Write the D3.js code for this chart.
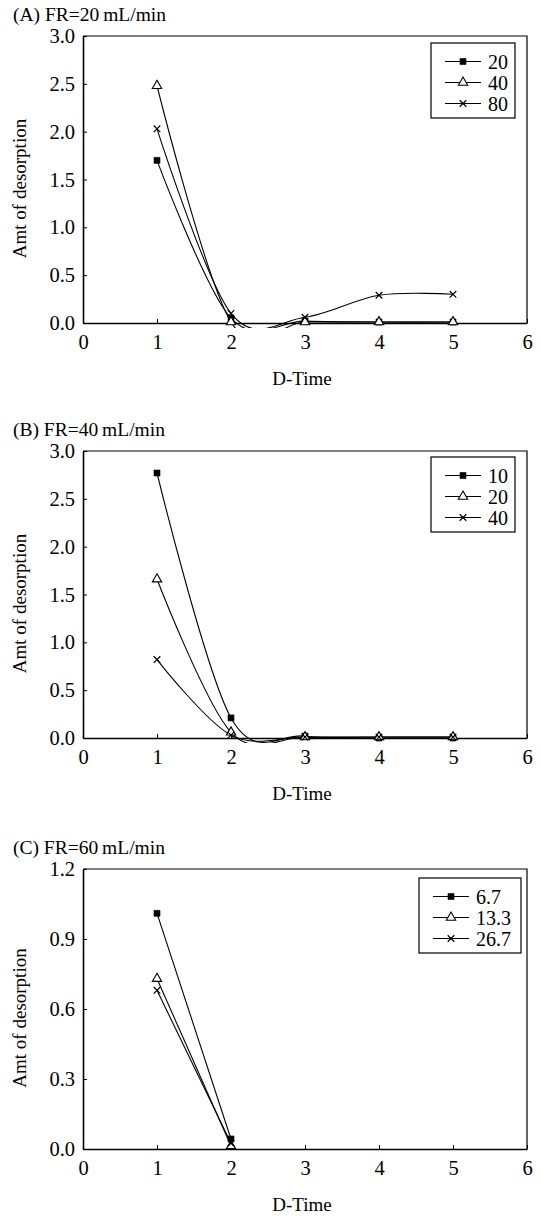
<!DOCTYPE html>
<html>
<head>
<meta charset="utf-8">
<script src="https://cdn.jsdelivr.net/npm/d3@7"></script>
<style>
  body { margin: 0; background: #fff; }
  svg text { font-family: "Liberation Serif", "DejaVu Serif", serif; fill: #000; }
</style>
</head>
<body>
<div class="viz"></div>
<script>
// x positions (D-Time) shared by all panels
const dTime = [1, 2, 3, 4, 5];

// (A) FR=20 mL/min
const seriesA_names = ["20", "40", "80"];
const seriesA_20 = [1.70, 0.05, 0.02, 0.01, 0.01];
const seriesA_40 = [2.48, 0.01, 0.01, 0.01, 0.01];
const seriesA_80 = [2.03, 0.10, 0.06, 0.29, 0.30];

// (B) FR=40 mL/min
const seriesB_names = ["10", "20", "40"];
const seriesB_10 = [2.77, 0.21, 0.02, 0.00, 0.00];
const seriesB_20 = [1.66, 0.06, 0.01, 0.01, 0.01];
const seriesB_40 = [0.82, 0.03, 0.01, 0.01, 0.01];

// (C) FR=60 mL/min, only two points
const dTimeC = [1, 2];
const seriesC_names = ["6.7", "13.3", "26.7"];
const seriesC_67 = [1.01, 0.043];
const seriesC_133 = [0.73, 0.013];
const seriesC_267 = [0.68, 0.025];

const xTicks = [0, 1, 2, 3, 4, 5, 6];
const yTicksAB = [0, 0.5, 1.0, 1.5, 2.0, 2.5, 3.0];
const yTicksC = [0, 0.3, 0.6, 0.9, 1.2];

const panels = [
    { title: "(A) FR=20\u2009mL/min", top: 36, bottom: 323, yMax: 3.0, yTicks: yTicksAB,
      x: dTime, names: seriesA_names, series: [seriesA_20, seriesA_40, seriesA_80],
      legend: { x: 431, y: 43, w: 84 } },
    { title: "(B) FR=40\u2009mL/min", top: 451, bottom: 738, yMax: 3.0, yTicks: yTicksAB,
      x: dTime, names: seriesB_names, series: [seriesB_10, seriesB_20, seriesB_40],
      legend: { x: 431, y: 457, w: 84 } },
    { title: "(C) FR=60\u2009mL/min", top: 869, bottom: 1149, yMax: 1.2, yTicks: yTicksC,
      x: dTimeC, names: seriesC_names, series: [seriesC_67, seriesC_133, seriesC_267],
      legend: { x: 419, y: 878, w: 102 } }
];

const width = 541, height = 1216;
const left = 83, right = 527;
const markerTypes = ["square", "triangle", "cross"];

const svg = d3.select(".viz").append("svg")
    .attr("width", width)
    .attr("height", height);

svg.append("rect").attr("width", width).attr("height", height).attr("fill", "#fff");

function drawMarker(sel, type) {
    if (type === "square") {
        sel.append("path").attr("d", d3.symbol(d3.symbolSquare, 36)())
            .attr("fill", "#000").attr("stroke", "#000").attr("stroke-width", 0.6);
    } else if (type === "triangle") {
        sel.append("path").attr("d", d3.symbol(d3.symbolTriangle, 38)())
            .attr("fill", "#fff").attr("stroke", "#000").attr("stroke-width", 1.1);
    } else {
        sel.append("path").attr("d", d3.symbol(d3.symbolX, 30)())
            .attr("fill", "none").attr("stroke", "#000").attr("stroke-width", 1.2);
    }
}

panels.forEach((p, pi) => {
    const x = d3.scaleLinear().domain([0, 6]).range([left, right]);
    const y = d3.scaleLinear().domain([0, p.yMax]).range([p.bottom, p.top]);
    const g = svg.append("g").attr("class", "panel");

    // title
    g.append("text")
        .attr("x", 13).attr("y", p.top - 22)
        .attr("dy", "0.35em")
        .attr("font-size", 19.5)
        .text(p.title);

    // frame (top + right)
    g.append("path")
        .attr("d", `M${left},${p.top}H${right}V${p.bottom}`)
        .attr("fill", "none").attr("stroke", "#000").attr("stroke-width", 1.2);

    // clip, lets curves run a few px under the axis like the original
    const clipId = "clip" + pi;
    svg.append("clipPath").attr("id", clipId)
        .append("rect")
        .attr("x", left).attr("y", p.top)
        .attr("width", right - left).attr("height", p.bottom - p.top + 5);

    const line = d3.line()
        .x((d, i) => x(p.x[i]))
        .y(d => y(d))
        .curve(d3.curveCardinal.tension(0));

    p.series.forEach(s => {
        g.append("path")
            .datum(s)
            .attr("clip-path", `url(#${clipId})`)
            .attr("d", line)
            .attr("fill", "none")
            .attr("stroke", "#000")
            .attr("stroke-width", 1.1);
    });

    // axes
    const yAxis = d3.axisLeft(y)
        .tickValues(p.yTicks)
        .tickFormat(d3.format(".1f"))
        .tickSizeInner(-4).tickSizeOuter(0).tickPadding(8);
    const ya = g.append("g").attr("transform", `translate(${left},0)`).call(yAxis);

    const xAxis = d3.axisBottom(x)
        .tickValues(xTicks)
        .tickFormat(d3.format("d"))
        .tickSizeInner(-4).tickSizeOuter(0).tickPadding(11);
    const xa = g.append("g").attr("transform", `translate(0,${p.bottom})`).call(xAxis);

    [ya, xa].forEach(a => {
        a.select(".domain").attr("stroke", "#000").attr("stroke-width", 1.6);
        a.selectAll(".tick line").attr("stroke", "#000").attr("stroke-width", 1);
        a.selectAll(".tick text").attr("font-size", 20.5)
            .attr("font-family", "Liberation Serif").attr("fill", "#000");
    });

    // markers
    p.series.forEach((s, si) => {
        s.forEach((v, i) => {
            const m = g.append("g").attr("transform", `translate(${x(p.x[i])},${y(v)})`);
            drawMarker(m, markerTypes[si]);
        });
    });

    // axis titles
    g.append("text")
        .attr("transform", `translate(19,${(p.top + p.bottom) / 2 + 9}) rotate(-90)`)
        .attr("text-anchor", "middle")
        .attr("dy", "0.35em")
        .attr("font-size", 19)
        .text("Amt of desorption");

    g.append("text")
        .attr("x", (left + right) / 2 - 3).attr("y", p.bottom + 55)
        .attr("text-anchor", "middle")
        .attr("dy", "0.35em")
        .attr("font-size", 19)
        .text("D-Time");

    // legend
    const lg = g.append("g").attr("transform", `translate(${p.legend.x},${p.legend.y})`);
    lg.append("rect")
        .attr("width", p.legend.w).attr("height", 75)
        .attr("fill", "#fff").attr("stroke", "#000").attr("stroke-width", 1.2);
    p.names.forEach((n, i) => {
        const ly = 18.5 + i * 21;
        lg.append("line")
            .attr("x1", 14).attr("x2", 50).attr("y1", ly).attr("y2", ly)
            .attr("stroke", "#000").attr("stroke-width", 1.1);
        drawMarker(lg.append("g").attr("transform", `translate(32,${ly})`), markerTypes[i]);
        lg.append("text")
            .attr("x", 57).attr("y", ly)
            .attr("dy", "0.35em")
            .attr("font-size", 20)
            .text(n);
    });
});
</script>
</body>
</html>
